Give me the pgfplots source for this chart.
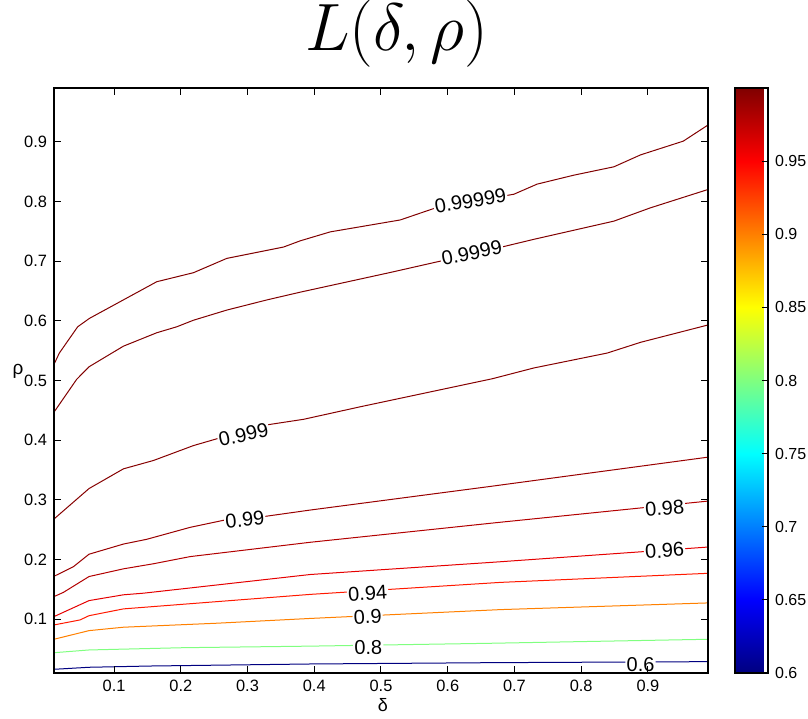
\RequirePackage{fix-cm}
\documentclass[border=0pt]{standalone}
\usepackage{fontspec}
\setmainfont{Liberation Sans}
\usepackage{pgfplots}
\pgfplotsset{compat=1.18}
\pgfplotsset{/pgf/number format/assume math mode=true}
\definecolor{c60}{rgb}{0,0,0.5}
\definecolor{c80}{rgb}{0.5,1,0.5}
\definecolor{c90}{rgb}{1,0.5,0}
\definecolor{c94}{rgb}{1,0.1,0}
\definecolor{c96}{rgb}{0.9,0,0}
\definecolor{c98}{rgb}{0.7,0,0}
\definecolor{c99}{rgb}{0.6,0,0}
\definecolor{c999}{rgb}{0.52,0,0}
\definecolor{c9999}{rgb}{0.5,0,0}
\tikzset{lab/.style={fill=white, inner sep=0.6pt, text=black, font=\fontsize{10}{12}\selectfont}}
\begin{document}
\begin{tikzpicture}
\useasboundingbox (-27pt,-22.5pt) rectangle (377pt,336.5pt);
\begin{axis}[
  at={(0,0)}, anchor=south west,
  scale only axis, width=327pt, height=292.5pt,
  xmin=0.01, xmax=0.99, ymin=0.01, ymax=0.99,
  xtick={0.1,0.2,0.3,0.4,0.5,0.6,0.7,0.8,0.9},
  ytick={0.1,0.2,0.3,0.4,0.5,0.6,0.7,0.8,0.9},
  tick align=inside, major tick length=3.5pt,
  axis line style={line width=0.7pt},
  tick style={line width=0.5pt, black},
  tick label style={font=\fontsize{8.2}{9}\selectfont},
  xlabel={δ}, ylabel={ρ},
  xlabel style={at={(axis description cs:0.503,-0.055)}, anchor=center, font=\fontsize{9}{10}\selectfont},
  ylabel style={at={(axis description cs:-0.055,0.515)}, anchor=center, rotate=-90, font=\fontsize{9.5}{10}\selectfont},
  title={$L(\delta,\rho)$},
  title style={at={(axis description cs:0.524,1.0435)}, anchor=base, inner sep=0pt, font=\fontsize{33.5}{36}\selectfont},
  point meta min=0.6, point meta max=1,
  colormap/jet,
  colorbar,
  colorbar style={
    at={(parent axis.north east)}, anchor=north west, xshift=5pt,
    width=16.5pt,
    ytick={0.6,0.65,0.7,0.75,0.8,0.85,0.9,0.95},
    ytick pos=right, yticklabel pos=right,
    tick align=inside, major tick length=3pt,
    tick style={line width=0.5pt, black},
    axis line style={line width=0.6pt},
    tick label style={font=\fontsize{8}{9}\selectfont},
  },
  clip=false, axis on top,
]
\addplot[c9999, line width=0.5pt] coordinates {(0.01,0.527)(0.018,0.546)(0.0455,0.590)(0.063,0.604)(0.164,0.6655)(0.219,0.6806)(0.269,0.7046)(0.354,0.7236)(0.379,0.734)(0.424,0.749)(0.529,0.769)(0.584,0.790)(0.699,0.812)(0.734,0.829)(0.789,0.844)(0.849,0.858)(0.889,0.878)(0.953,0.901)(0.99,0.928)};
\addplot[c9999, line width=0.5pt] coordinates {(0.01,0.447)(0.044,0.502)(0.0625,0.523)(0.114,0.5575)(0.164,0.580)(0.194,0.590)(0.219,0.601)(0.269,0.618)(0.329,0.635)(0.379,0.648)(0.514,0.681)(0.589,0.700)(0.681,0.7236)(0.729,0.7365)(0.849,0.767)(0.903,0.789)(0.99,0.820)};
\addplot[c999, line width=0.5pt] coordinates {(0.01,0.268)(0.0625,0.319)(0.114,0.352)(0.159,0.366)(0.219,0.391)(0.256,0.403)(0.331,0.426)(0.384,0.435)(0.469,0.456)(0.667,0.503)(0.729,0.521)(0.839,0.546)(0.889,0.564)(0.99,0.593)};
\addplot[c99, line width=0.5pt] coordinates {(0.01,0.172)(0.039,0.188)(0.0625,0.209)(0.114,0.226)(0.149,0.234)(0.214,0.254)(0.269,0.267)(0.324,0.272)(0.394,0.283)(0.664,0.3226)(0.99,0.3716)};
\addplot[c98, line width=0.5pt] coordinates {(0.01,0.138)(0.024,0.145)(0.0625,0.1716)(0.114,0.1845)(0.159,0.193)(0.214,0.205)(0.394,0.229)(0.674,0.262)(0.99,0.298)};
\addplot[c96, line width=0.5pt] coordinates {(0.01,0.1045)(0.0625,0.1313)(0.114,0.141)(0.144,0.1437)(0.394,0.175)(0.674,0.196)(0.99,0.221)};
\addplot[c94, line width=0.5pt] coordinates {(0.01,0.0905)(0.049,0.0989)(0.0625,0.106)(0.114,0.1174)(0.394,0.1417)(0.679,0.1618)(0.99,0.177)};
\addplot[c90, line width=0.5pt] coordinates {(0.01,0.0665)(0.0625,0.081)(0.114,0.0867)(0.254,0.0934)(0.394,0.1014)(0.679,0.1162)(0.99,0.1274)};
\addplot[c80, line width=0.5pt] coordinates {(0.01,0.044)(0.0625,0.0486)(0.204,0.0524)(0.394,0.055)(0.664,0.0598)(0.99,0.0665)};
\addplot[c60, line width=0.5pt] coordinates {(0.01,0.0162)(0.0625,0.0196)(0.154,0.0217)(0.394,0.0251)(0.664,0.0273)(0.99,0.029)};
\node[lab, rotate=10] at (axis cs:0.634,0.801) {0.99999};
\node[lab, rotate=11] at (axis cs:0.636,0.714) {0.9999};
\node[lab, rotate=12] at (axis cs:0.294,0.409) {0.999};
\node[lab, rotate=6] at (axis cs:0.296,0.267) {0.99};
\node[lab, rotate=5] at (axis cs:0.925,0.286) {0.98};
\node[lab, rotate=4] at (axis cs:0.925,0.215) {0.96};
\node[lab, rotate=3.5] at (axis cs:0.48,0.1437) {0.94};
\node[lab, rotate=2.8] at (axis cs:0.48,0.1045) {0.9};
\node[lab, rotate=1.3] at (axis cs:0.481,0.0524) {0.8};
\node[lab, rotate=0.3] at (axis cs:0.889,0.0234) {0.6};
\end{axis}
\end{tikzpicture}
\end{document}
